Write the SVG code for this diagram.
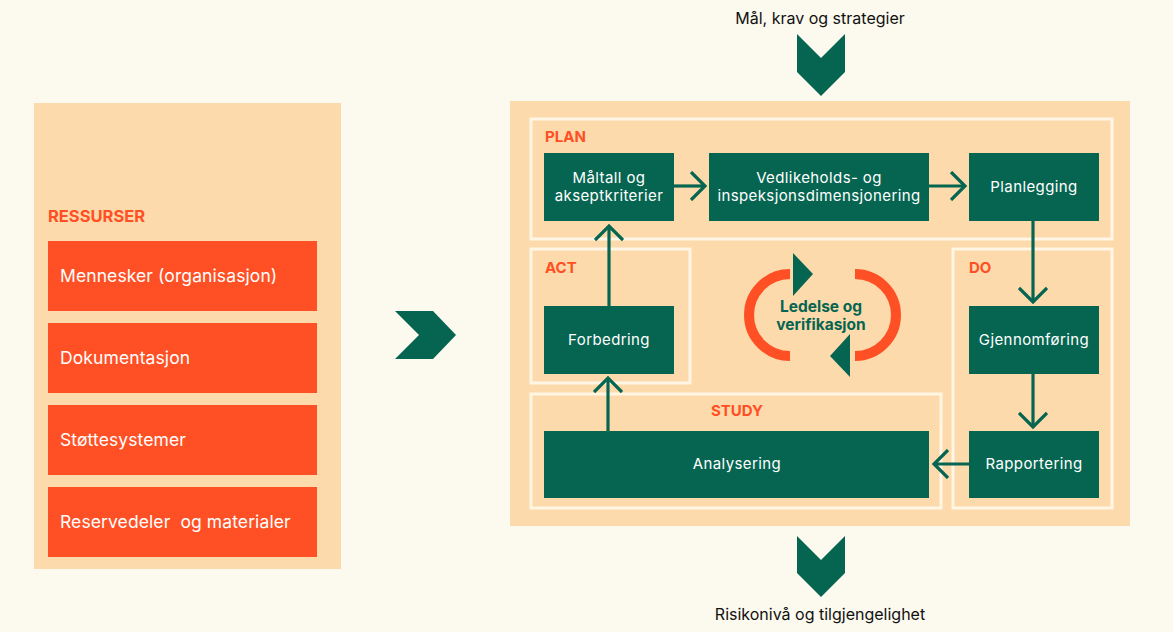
<svg xmlns="http://www.w3.org/2000/svg" width="1173" height="632" viewBox="0 0 1173 632">
<defs>
<style>
.bg{fill:#FCF9EE}
.panel{fill:#FDDAAB}
.frame{fill:none;stroke:#FFF6E6;stroke-width:3}
.res{fill:#FF4F24}
.box{fill:#066551}
.chev{fill:#066551}
.t{font-family:Inter,"Open Sans","Liberation Sans",sans-serif;font-size:15px;letter-spacing:0.4px;fill:#FFFFFF}
.rt{font-family:Inter,"Open Sans","Liberation Sans",sans-serif;font-size:17.5px;letter-spacing:0.1px;fill:#FFFFFF;white-space:pre}
.tc{text-anchor:middle}
.lab{font-family:Inter,"Liberation Sans",sans-serif;font-size:15px;font-weight:700;fill:#FF4F24}
.io{font-family:Inter,"Liberation Sans",sans-serif;font-size:16px;fill:#111111;text-anchor:middle}
.conn{fill:none;stroke:#066551;stroke-width:3.2;stroke-linecap:butt}
.head{fill:none;stroke:#066551;stroke-width:3.2;stroke-linejoin:miter}
</style>
<marker id="ah" viewBox="0 0 20 30" refX="16" refY="15" markerWidth="20" markerHeight="30" markerUnits="userSpaceOnUse" orient="auto">
<path d="M2 1 L16 15 L2 29" class="head"/>
</marker>
</defs>
<rect class="bg" x="0" y="0" width="1173" height="632"/>

<g id="io-top">
<text class="io" x="820" y="24">Mål, krav og strategier</text>
<polygon class="chev" points="797,34 821,58 845,34 845,72 821,96 797,72"/>
</g>
<g id="io-bottom">
<polygon class="chev" points="797,536 821,560 845,536 845,573 821,597 797,573"/>
<text class="io" x="820" y="620">Risikonivå og tilgjengelighet</text>
</g>

<g id="ressurser">
<rect class="panel" x="34" y="103" width="307" height="466"/>
<text class="lab" x="48" y="222" style="font-size:16.5px">RESSURSER</text>
<g id="r1"><rect class="res" x="48" y="241" width="269" height="70"/><text class="rt" x="60" y="282">Mennesker (organisasjon)</text></g>
<g id="r2"><rect class="res" x="48" y="323" width="269" height="70"/><text class="rt" x="60" y="364">Dokumentasjon</text></g>
<g id="r3"><rect class="res" x="48" y="405" width="269" height="70"/><text class="rt" x="60" y="446">Støttesystemer</text></g>
<g id="r4"><rect class="res" x="48" y="487" width="269" height="70"/><text class="rt" x="60" y="528">Reservedeler  og materialer</text></g>
</g>

<g id="mid-chevron">
<polygon class="chev" points="395,311 433,311 456,335 433,359 395,359 419,335"/>
</g>

<g id="main">
<rect class="panel" x="510" y="101" width="620" height="425"/>
<rect class="frame" x="531" y="119" width="581" height="120"/>
<rect class="frame" x="531" y="249" width="159" height="134"/>
<rect class="frame" x="531" y="394" width="410" height="114"/>
<rect class="frame" x="953" y="249" width="159" height="259"/>
<text class="lab" x="545" y="142">PLAN</text>
<text class="lab" x="545" y="273">ACT</text>
<text class="lab" x="737" y="416" text-anchor="middle">STUDY</text>
<text class="lab" x="969" y="273">DO</text>
</g>

<g id="maaltall"><rect class="box" x="544" y="153" width="130" height="68"/><text class="t tc" x="609" y="183">Måltall og</text><text class="t tc" x="609" y="201">akseptkriterier</text></g>
<g id="vedlikehold"><rect class="box" x="709" y="153" width="220" height="68"/><text class="t tc" x="819" y="183">Vedlikeholds- og</text><text class="t tc" x="819" y="201">inspeksjonsdimensjonering</text></g>
<g id="planlegging"><rect class="box" x="969" y="153" width="130" height="68"/><text class="t tc" x="1034" y="192">Planlegging</text></g>
<g id="gjennomforing"><rect class="box" x="969" y="306" width="130" height="68"/><text class="t tc" x="1034" y="345">Gjennomføring</text></g>
<g id="rapportering"><rect class="box" x="969" y="431" width="130" height="67"/><text class="t tc" x="1034" y="469">Rapportering</text></g>
<g id="analysering"><rect class="box" x="544" y="431" width="385" height="67"/><text class="t tc" x="737" y="469">Analysering</text></g>
<g id="forbedring"><rect class="box" x="544" y="306" width="130" height="68"/><text class="t tc" x="609" y="345">Forbedring</text></g>

<g id="ledelse">
<path d="M790 274 A41 41 0 0 0 790 356" fill="none" stroke="#FF4F24" stroke-width="10"/>
<path d="M855 274 A41 41 0 0 1 855 356" fill="none" stroke="#FF4F24" stroke-width="10"/>
<polygon fill="#066551" points="793,253 813,274 793,296"/>
<polygon fill="#066551" points="850,334 830,356 850,377"/>
<text x="821" y="312" text-anchor="middle" font-family="Inter,'Liberation Sans',sans-serif" font-size="15.5" font-weight="700" fill="#066551">Ledelse og</text>
<text x="821" y="330" text-anchor="middle" font-family="Inter,'Liberation Sans',sans-serif" font-size="15.5" font-weight="700" fill="#066551">verifikasjon</text>
</g>

<g id="connectors">
<path class="conn" d="M674 186 H705" marker-end="url(#ah)"/>
<path class="conn" d="M929 186 H965" marker-end="url(#ah)"/>
<path class="conn" d="M1033 221 V302" marker-end="url(#ah)"/>
<path class="conn" d="M1033 374 V427" marker-end="url(#ah)"/>
<path class="conn" d="M969 464 H934" marker-end="url(#ah)"/>
<path class="conn" d="M608 431 V378" marker-end="url(#ah)"/>
<path class="conn" d="M609 306 V226" marker-end="url(#ah)"/>
</g>
</svg>
